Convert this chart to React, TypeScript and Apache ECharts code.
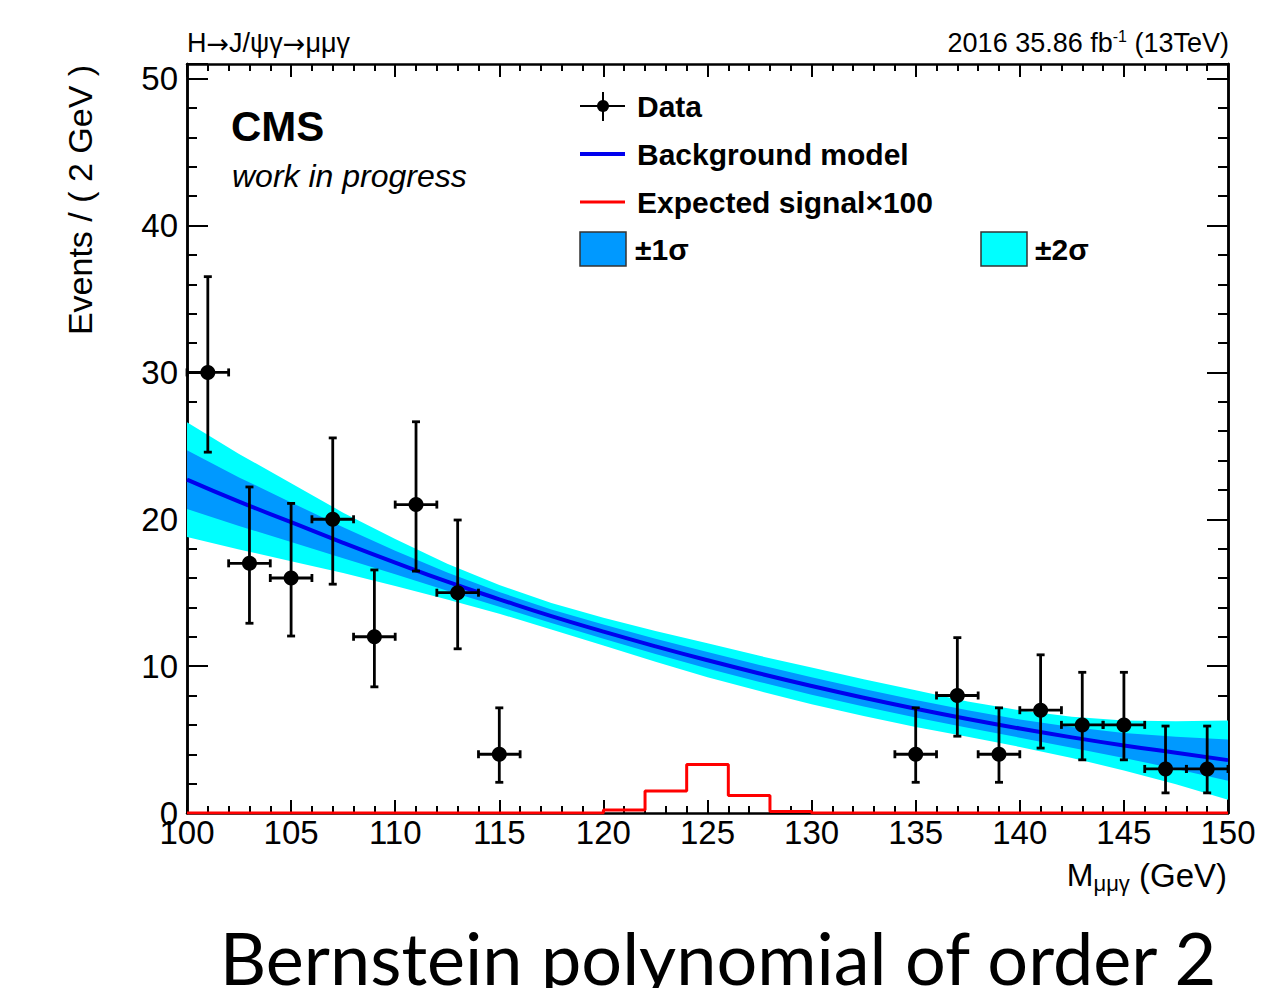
import { useEffect, useRef } from "react";
import * as echarts from "echarts";

// Observed events in 2 GeV bins (bin centres), with 68% Poisson intervals
const dataMass = [101, 103, 105, 107, 109, 111, 113, 115, 135, 137, 139, 141, 143, 145, 147, 149];
const dataCounts = [30, 17, 16, 20, 12, 21, 15, 4, 4, 8, 4, 7, 6, 6, 3, 3];
const dataLow = [24.57, 12.92, 12.05, 15.58, 8.59, 16.47, 11.18, 2.09, 2.09, 5.23, 2.09, 4.42, 3.62, 3.62, 1.37, 1.37];
const dataHigh = [36.52, 22.2, 21.08, 25.54, 16.55, 26.64, 19.95, 7.16, 7.16, 11.94, 7.16, 10.77, 9.58, 9.58, 5.92, 5.92];

// Background model (Bernstein order 2) and its uncertainty bands
const modelMass = [100, 102.5, 105, 107.5, 110, 112.5, 115, 117.5, 120, 122.5, 125, 127.5, 130, 132.5, 135, 137.5, 140, 142.5, 145, 147.5, 150];
const modelCenter = [22.7, 21.2, 19.8, 18.4, 17.05, 15.75, 14.55, 13.4, 12.35, 11.35, 10.4, 9.5, 8.65, 7.85, 7.1, 6.4, 5.75, 5.15, 4.6, 4.1, 3.6];
const sigma1 = [2.0, 1.65, 1.35, 1.05, 0.8, 0.62, 0.5, 0.46, 0.48, 0.52, 0.56, 0.58, 0.6, 0.6, 0.6, 0.6, 0.62, 0.7, 0.85, 1.1, 1.4];
const sigma2 = [3.9, 3.25, 2.65, 2.05, 1.6, 1.22, 0.98, 0.9, 0.95, 1.05, 1.15, 1.2, 1.25, 1.25, 1.25, 1.2, 1.25, 1.4, 1.7, 2.15, 2.7];

// Expected signal x100, 2 GeV bins from 100 to 150
const signalEdgeStart = 100;
const signalBinWidth = 2;
const signalBins = [0, 0, 0, 0, 0, 0, 0, 0, 0, 0, 0.2, 1.5, 3.3, 1.2, 0.1, 0, 0, 0, 0, 0, 0, 0, 0, 0, 0];

// Axis ranges and ticks
const xMin = 100, xMax = 150, xStep = 5;
const yMin = 0, yMax = 51, yStep = 10, yMinorStep = 2;

const FONT = "'Liberation Sans', Arial, Helvetica, sans-serif";
const CYAN = "#00ffff";
const AZURE = "#0099ff";
const BLUE = "#0000ee";

export default function App() {
  const ref = useRef<HTMLDivElement>(null);

  useEffect(() => {
    const chart = echarts.init(ref.current!, null, { renderer: "svg" });

    const centerLine = modelMass.map((m, i) => [m, modelCenter[i]]);

    const signalLine = signalBins.map((v, i) => [signalEdgeStart + i * signalBinWidth, v]);
    signalLine.push([signalEdgeStart + signalBins.length * signalBinWidth, signalBins[signalBins.length - 1]]);

    const points = dataMass.map((m, i) => [m, dataCounts[i], dataLow[i], dataHigh[i]]);

    const tickStyle = { color: "#000", width: 2 };
    const axisLineStyle = { color: "#000", width: 2.5 };

    const xAxisBase = {
      type: "value" as const,
      min: xMin,
      max: xMax,
      interval: xStep,
      axisLine: { show: true, onZero: false, lineStyle: axisLineStyle },
      axisTick: { show: true, inside: true, length: 13, lineStyle: tickStyle },
      minorTick: { show: true, splitNumber: 5, length: 7, lineStyle: tickStyle },
      splitLine: { show: false },
      minorSplitLine: { show: false },
    };

    const yAxisBase = {
      type: "value" as const,
      min: yMin,
      max: yMax,
      splitLine: { show: false },
      axisLine: { show: true, onZero: false, lineStyle: axisLineStyle },
    };

    // closed polygon between two boundary curves of the model band
    const bandPolygon = (api: any, lo: number[], hi: number[]) => {
      const top = modelMass.map((m, i) => api.coord([m, modelCenter[i] + hi[i]]));
      const bottom = modelMass.map((m, i) => api.coord([m, modelCenter[i] - lo[i]])).reverse();
      return top.concat(bottom);
    };

    const option: any = {
      animation: false,
      grid: { left: 187, right: 44, top: 64, bottom: 175, containLabel: false },
      xAxis: [
        {
          ...xAxisBase,
          position: "bottom",
          axisLabel: {
            show: true,
            fontSize: 33,
            color: "#000",
            fontFamily: FONT,
            margin: 3,
            showMinLabel: true,
            showMaxLabel: true,
          },
        },
        { ...xAxisBase, position: "top", axisLabel: { show: false } },
      ],
      yAxis: [
        {
          ...yAxisBase,
          position: "left",
          interval: yStep,
          axisTick: { show: true, inside: true, length: 21, lineStyle: tickStyle },
          axisLabel: {
            show: true,
            fontSize: 33,
            color: "#000",
            fontFamily: FONT,
            margin: 9,
            showMinLabel: true,
            showMaxLabel: true,
            formatter: (v: number) => (v % yStep === 0 ? String(v) : ""),
          },
        },
        {
          ...yAxisBase,
          position: "left",
          interval: yMinorStep,
          axisTick: { show: true, inside: true, length: 10, lineStyle: tickStyle },
          axisLabel: { show: false },
        },
        {
          ...yAxisBase,
          position: "right",
          interval: yStep,
          axisTick: { show: true, inside: true, length: 21, lineStyle: tickStyle },
          axisLabel: { show: false },
        },
        {
          ...yAxisBase,
          position: "right",
          interval: yMinorStep,
          axisTick: { show: true, inside: true, length: 10, lineStyle: tickStyle },
          axisLabel: { show: false },
        },
      ],
      series: [
        {
          name: "Uncertainty bands",
          type: "custom",
          z: 1,
          silent: true,
          clip: true,
          encode: { x: 0, y: 1 },
          data: [[modelMass[0], modelCenter[0]]],
          renderItem: (_params: any, api: any) => ({
            type: "group",
            children: [
              { type: "polygon", shape: { points: bandPolygon(api, sigma2, sigma2) }, style: { fill: CYAN } },
              { type: "polygon", shape: { points: bandPolygon(api, sigma1, sigma1) }, style: { fill: AZURE } },
            ],
          }),
        },
        {
          name: "Background model",
          type: "line",
          data: centerLine,
          smooth: true,
          symbol: "none",
          z: 3,
          lineStyle: { color: BLUE, width: 4 },
        },
        {
          name: "Expected signal",
          type: "line",
          data: signalLine,
          step: "end",
          symbol: "none",
          z: 4,
          lineStyle: { color: "#ff0000", width: 3 },
        },
        {
          name: "Data",
          type: "custom",
          z: 5,
          encode: { x: 0, y: 1 },
          data: points,
          renderItem: (_params: any, api: any) => {
            const x = api.value(0);
            const y = api.value(1);
            const lo = api.value(2);
            const hi = api.value(3);
            const c = api.coord([x, y]);
            const t = api.coord([x, hi]);
            const b = api.coord([x, lo]);
            const l = api.coord([x - signalBinWidth / 2, y]);
            const r = api.coord([x + signalBinWidth / 2, y]);
            const st = { stroke: "#000", lineWidth: 2.8 };
            const cap = 4;
            return {
              type: "group",
              children: [
                { type: "line", shape: { x1: c[0], y1: t[1], x2: c[0], y2: b[1] }, style: st },
                { type: "line", shape: { x1: l[0], y1: c[1], x2: r[0], y2: c[1] }, style: st },
                { type: "line", shape: { x1: c[0] - cap, y1: t[1], x2: c[0] + cap, y2: t[1] }, style: st },
                { type: "line", shape: { x1: c[0] - cap, y1: b[1], x2: c[0] + cap, y2: b[1] }, style: st },
                { type: "line", shape: { x1: l[0], y1: c[1] - cap, x2: l[0], y2: c[1] + cap }, style: st },
                { type: "line", shape: { x1: r[0], y1: c[1] - cap, x2: r[0], y2: c[1] + cap }, style: st },
                { type: "circle", shape: { cx: c[0], cy: c[1], r: 7.5 }, style: { fill: "#000" } },
              ],
            };
          },
        },
      ],
      graphic: [
        // header
        {
          type: "text", x: 187, y: 43,
          style: {
            text: "{a|H}{r|→}{a|J/ψγ}{r|→}{a|μμγ}",
            fontFamily: FONT, fill: "#000", align: "left", verticalAlign: "middle",
            rich: {
              a: { fontSize: 27, fontFamily: FONT, fill: "#000" },
              r: { fontSize: 27, fontFamily: "'DejaVu Sans', sans-serif", fill: "#000" },
            },
          },
        },
        {
          type: "text", x: 1229, y: 43,
          style: {
            text: "{a|2016 35.86 fb}{s|-1}{a| (13TeV)}",
            fontFamily: FONT, fill: "#000", align: "right", verticalAlign: "middle",
            rich: {
              a: { fontSize: 27, lineHeight: 30, fontFamily: FONT, fill: "#000" },
              s: { fontSize: 16, lineHeight: 18, fontFamily: FONT, fill: "#000", verticalAlign: "top" },
            },
          },
        },
        // CMS label
        { type: "text", x: 231, y: 126, style: { text: "CMS", fontSize: 42, fontWeight: "bold", fontFamily: FONT, fill: "#000", align: "left", verticalAlign: "middle" } },
        { type: "text", x: 232, y: 176, style: { text: "work in progress", fontSize: 32, fontStyle: "italic", fontFamily: FONT, fill: "#000", align: "left", verticalAlign: "middle" } },
        // y axis title
        { type: "text", x: 80, y: 200, rotation: Math.PI / 2, style: { text: "Events / ( 2 GeV )", fontSize: 34, fontFamily: FONT, fill: "#000", align: "center", verticalAlign: "middle" } },
        // x axis title
        {
          type: "text", x: 1227, y: 875,
          style: {
            text: "{m|M}{s|μμγ}{n| (GeV)}",
            fontFamily: FONT, fill: "#000", align: "right", verticalAlign: "middle",
            rich: {
              m: { fontSize: 32, lineHeight: 38, fontFamily: FONT, fill: "#000" },
              s: { fontSize: 22, lineHeight: 16, fontFamily: FONT, fill: "#000", verticalAlign: "bottom" },
              n: { fontSize: 33, lineHeight: 38, fontFamily: FONT, fill: "#000" },
            },
          },
        },
        // legend
        { type: "line", shape: { x1: 580, y1: 106, x2: 625, y2: 106 }, style: { stroke: "#000", lineWidth: 2 } },
        { type: "line", shape: { x1: 603, y1: 92, x2: 603, y2: 121 }, style: { stroke: "#000", lineWidth: 2 } },
        { type: "circle", shape: { cx: 603, cy: 106, r: 6 }, style: { fill: "#000" } },
        { type: "text", x: 637, y: 106, style: { text: "Data", fontSize: 30, fontWeight: "bold", fontFamily: FONT, fill: "#000", align: "left", verticalAlign: "middle" } },
        { type: "line", shape: { x1: 580, y1: 154, x2: 625, y2: 154 }, style: { stroke: BLUE, lineWidth: 4 } },
        { type: "text", x: 637, y: 154, style: { text: "Background model", fontSize: 30, fontWeight: "bold", fontFamily: FONT, fill: "#000", align: "left", verticalAlign: "middle" } },
        { type: "line", shape: { x1: 580, y1: 202, x2: 625, y2: 202 }, style: { stroke: "#ff0000", lineWidth: 3 } },
        { type: "text", x: 637, y: 202, style: { text: "Expected signal×100", fontSize: 30, fontWeight: "bold", fontFamily: FONT, fill: "#000", align: "left", verticalAlign: "middle" } },
        { type: "rect", shape: { x: 580, y: 232, width: 46, height: 34 }, style: { fill: AZURE, stroke: "#333", lineWidth: 1.5 } },
        { type: "text", x: 635, y: 249, style: { text: "±1σ", fontSize: 30, fontWeight: "bold", fontFamily: FONT, fill: "#000", align: "left", verticalAlign: "middle" } },
        { type: "rect", shape: { x: 981, y: 232, width: 46, height: 34 }, style: { fill: CYAN, stroke: "#333", lineWidth: 1.5 } },
        { type: "text", x: 1035, y: 249, style: { text: "±2σ", fontSize: 30, fontWeight: "bold", fontFamily: FONT, fill: "#000", align: "left", verticalAlign: "middle" } },
        // caption
        { type: "text", x: 718, y: 957, style: { text: "Bernstein polynomial of order 2", fontSize: 72, fontFamily: "Lato, 'Noto Sans', sans-serif", fill: "#000", align: "center", verticalAlign: "middle" } },
      ],
    };

    chart.setOption(option);
    return () => chart.dispose();
  }, []);

  return (
    <div
      ref={ref}
      style={{ position: "absolute", left: 0, top: 0, width: 1272, height: 988, background: "#fff" }}
    />
  );
}
